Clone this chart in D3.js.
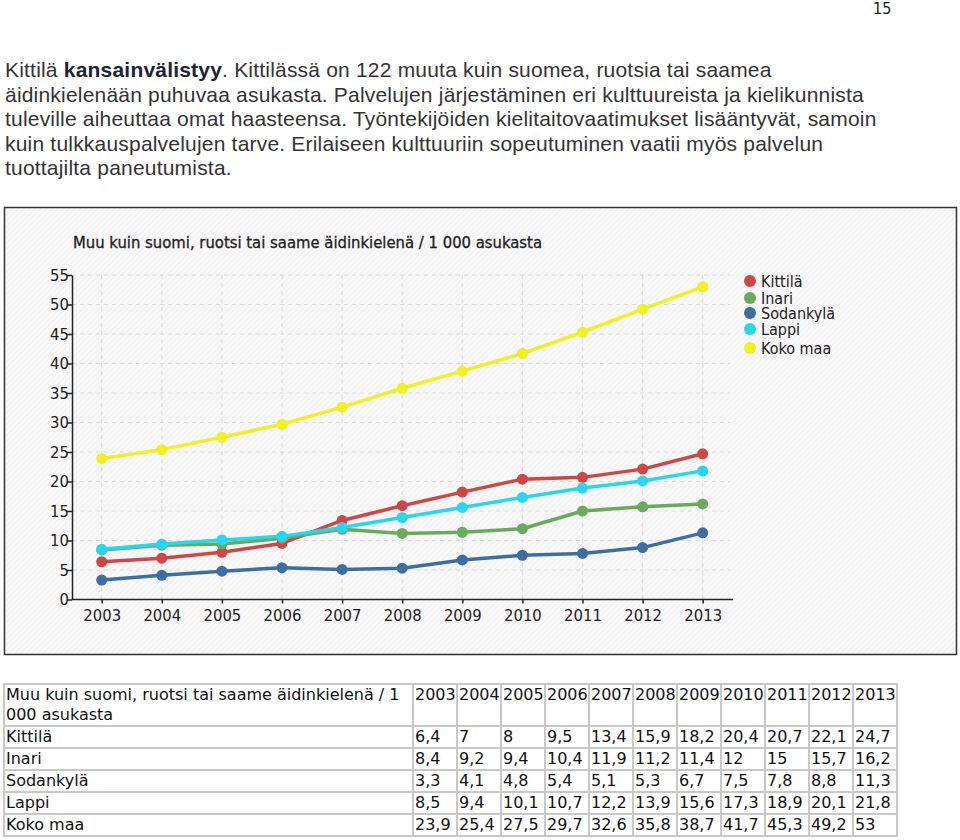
<!DOCTYPE html>
<html>
<head>
<meta charset="utf-8">
<script src="https://cdn.jsdelivr.net/npm/d3@7"></script>
<style>
  body { margin: 0; background: #fff; width: 960px; height: 840px; position: relative; overflow: hidden; }
  #pagenum { position: absolute; left: 873px; top: 1px; font: 16px/16px "DejaVu Sans Condensed", "Liberation Sans Narrow", sans-serif; color: #222; }
  #intro { position: absolute; left: 5px; top: 58px; font: 21px "Liberation Sans", Arial, sans-serif; line-height: 24.6px; color: #333; white-space: nowrap; letter-spacing: 0.2px; }
  #intro b { color: #1c2433; }
  #chart { position: absolute; left: 0; top: 0; }
  #tbl { position: absolute; left: 3px; top: 683px; border-collapse: collapse; table-layout: fixed; font: 16px "DejaVu Sans", Verdana, sans-serif; color: #111; }
  #tbl td { border: 2px solid #c8c8c8; padding: 0 0 0 1px; vertical-align: top; height: 20px; line-height: 20px; white-space: nowrap; overflow: visible; }
</style>
</head>
<body>
<div id="pagenum">15</div>
<div id="intro">Kittilä <b>kansainvälistyy</b>. Kittilässä on 122 muuta kuin suomea, ruotsia tai saamea<br>äidinkielenään puhuvaa asukasta. Palvelujen järjestäminen eri kulttuureista ja kielikunnista<br>tuleville aiheuttaa omat haasteensa. Työntekijöiden kielitaitovaatimukset lisääntyvät, samoin<br>kuin tulkkauspalvelujen tarve. Erilaiseen kulttuuriin sopeutuminen vaatii myös palvelun<br>tuottajilta paneutumista.</div>
<svg id="chart" width="960" height="680"></svg>
<table id="tbl"></table>
<script>
var title = "Muu kuin suomi, ruotsi tai saame äidinkielenä / 1 000 asukasta";
var years = [2003, 2004, 2005, 2006, 2007, 2008, 2009, 2010, 2011, 2012, 2013];
var names = ["Kittilä", "Inari", "Sodankylä", "Lappi", "Koko maa"];
var colors = ["#d24545", "#6aaa5c", "#3b6ea3", "#26d8ee", "#eef21e"];
var kittila   = [6.4, 7, 8, 9.5, 13.4, 15.9, 18.2, 20.4, 20.7, 22.1, 24.7];
var inari     = [8.4, 9.2, 9.4, 10.4, 11.9, 11.2, 11.4, 12, 15, 15.7, 16.2];
var sodankyla = [3.3, 4.1, 4.8, 5.4, 5.1, 5.3, 6.7, 7.5, 7.8, 8.8, 11.3];
var lappi     = [8.5, 9.4, 10.1, 10.7, 12.2, 13.9, 15.6, 17.3, 18.9, 20.1, 21.8];
var kokomaa   = [23.9, 25.4, 27.5, 29.7, 32.6, 35.8, 38.7, 41.7, 45.3, 49.2, 53];
var yTicks = [0, 5, 10, 15, 20, 25, 30, 35, 40, 45, 50, 55];

var series = [kittila, inari, sodankyla, lappi, kokomaa].map(function(v, i) {
  return { name: names[i], color: colors[i], values: v };
});

var font = "DejaVu Sans Condensed, DejaVu Sans, sans-serif";
var svg = d3.select("#chart");

// hatched background
var defs = svg.append("defs");
var pat = defs.append("pattern")
    .attr("id", "hatch")
    .attr("width", 4).attr("height", 4)
    .attr("patternUnits", "userSpaceOnUse")
    .attr("patternTransform", "rotate(45)");
pat.append("rect").attr("width", 4).attr("height", 4).attr("fill", "#f8f8f8");
pat.append("line").attr("x1", 0).attr("y1", 0).attr("x2", 0).attr("y2", 4)
    .attr("stroke", "#eeeeee").attr("stroke-width", 1.5);

svg.append("rect")
    .attr("x", 4.5).attr("y", 207.5)
    .attr("width", 952).attr("height", 447)
    .attr("fill", "url(#hatch)")
    .attr("stroke", "#333").attr("stroke-width", 1.5);

var x = d3.scaleLinear().domain([2003, 2013]).range([101.7, 702.7]);
var y = d3.scaleLinear().domain([0, 55]).range([599.5, 275]);

svg.append("text")
    .attr("x", 73).attr("y", 248)
    .attr("font-family", font)
    .attr("font-size", 16.5)
    .attr("fill", "#222")
    .attr("stroke", "#222").attr("stroke-width", 0.3)
    .text(title);

// grid
var grid = svg.append("g").attr("stroke", "#dcdcdc").attr("stroke-dasharray", "4,4").attr("stroke-width", 1);
grid.selectAll("line.h")
    .data(yTicks.slice(1))
    .enter().append("line")
    .attr("x1", 72).attr("x2", 730)
    .attr("y1", function(d) { return y(d); })
    .attr("y2", function(d) { return y(d); });
grid.selectAll("line.v")
    .data(years)
    .enter().append("line")
    .attr("x1", function(d) { return x(d); })
    .attr("x2", function(d) { return x(d); })
    .attr("y1", y(55)).attr("y2", y(0));

// axes
var xAxis = svg.append("g")
    .attr("transform", "translate(0," + y(0) + ")")
    .call(d3.axisBottom(x).tickValues(years).tickFormat(d3.format("d")).tickSize(4).tickSizeOuter(0));
xAxis.select(".domain").attr("d", "M72,0H733");
var yAxis = svg.append("g")
    .attr("transform", "translate(72,0)")
    .call(d3.axisLeft(y).tickValues(yTicks).tickSize(5).tickSizeOuter(0));
svg.selectAll(".domain").attr("stroke", "#222").attr("stroke-width", 1.5);
svg.selectAll(".tick line").attr("stroke", "#222").attr("stroke-width", 1.5);
svg.selectAll(".tick text")
    .attr("font-family", font)
    .attr("font-size", 16.5)
    .attr("fill", "#222");
xAxis.selectAll(".tick text").attr("dy", "0.9em");
yAxis.selectAll(".tick text").attr("x", -3);

// lines
var line = d3.line()
    .x(function(d, i) { return x(years[i]); })
    .y(function(d) { return y(d); });

var sg = svg.selectAll("g.series")
    .data(series)
    .enter().append("g")
    .attr("class", "series");
sg.append("path")
    .attr("d", function(d) { return line(d.values); })
    .attr("fill", "none")
    .attr("stroke", function(d) { return d.color; })
    .attr("stroke-width", 3.5)
    .attr("stroke-linejoin", "round");
sg.selectAll("circle")
    .data(function(d) { return d.values.map(function(v, i) { return { v: v, yr: years[i], c: d.color }; }); })
    .enter().append("circle")
    .attr("cx", function(d) { return x(d.yr); })
    .attr("cy", function(d) { return y(d.v); })
    .attr("r", 5.5)
    .attr("fill", function(d) { return d.c; });

// legend
var lg = svg.append("g").attr("transform", "translate(750,281)");
var legendY = [0, 17, 32, 48, 67];
var li = lg.selectAll("g")
    .data(series)
    .enter().append("g")
    .attr("transform", function(d, i) { return "translate(0," + legendY[i] + ")"; });
li.append("circle").attr("r", 6).attr("fill", function(d) { return d.color; });
li.append("text")
    .attr("x", 11).attr("dy", "0.35em")
    .attr("font-family", font)
    .attr("font-size", 16)
    .attr("fill", "#222")
    .text(function(d) { return d.name; });

// table
var tbl = d3.select("#tbl");
var head = tbl.append("tr");
head.append("td").style("width", "406px").html("Muu kuin suomi, ruotsi tai saame äidinkielenä / 1<br>000 asukasta");
head.selectAll("td.y")
    .data(years)
    .enter().append("td")
    .style("width", "41px")
    .text(function(d) { return d; });
var rows = tbl.selectAll("tr.r")
    .data(series)
    .enter().append("tr");
rows.append("td").text(function(d) { return d.name; });
rows.selectAll("td.v")
    .data(function(d) { return d.values; })
    .enter().append("td")
    .text(function(d) { return String(d).replace(".", ","); });
</script>
</body>
</html>
